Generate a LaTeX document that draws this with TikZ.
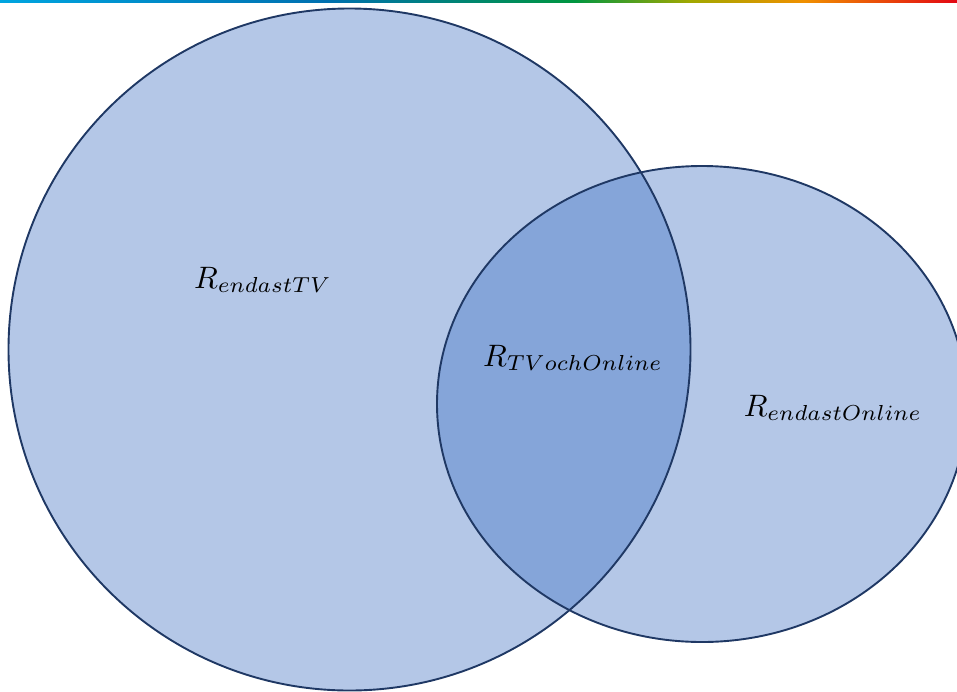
\documentclass[tikz,border=0pt]{standalone}
\usepackage{xcolor}
\usepackage{amsmath}
\usetikzlibrary{calc,positioning}
\definecolor{setfill}{HTML}{B4C7E7}
\definecolor{cutfill}{HTML}{85A5D9}
\definecolor{setline}{HTML}{1F3864}
\definecolor{barcyan}{HTML}{00A5E0}
\definecolor{barblue}{HTML}{0070B0}
\definecolor{bargreen}{HTML}{009640}
\definecolor{barolive}{HTML}{A0A800}
\definecolor{barorange}{HTML}{F09000}
\definecolor{barred}{HTML}{E30613}
\pgfdeclarehorizontalshading{topbar}{100bp}{
	color(0bp)=(barcyan);
	color(25bp)=(barcyan);
	color(42bp)=(barblue);
	color(55bp)=(bargreen);
	color(61bp)=(barolive);
	color(67bp)=(barorange);
	color(75bp)=(barred);
	color(100bp)=(barred)}
\tikzstyle{setarea}=[fill=setfill]
\tikzstyle{setedge}=[draw=setline, line width=1.9pt]
\tikzstyle{setlabel}=[inner sep=0, scale=3.1]

\begin{document}
\begin{tikzpicture}[x=1pt, y=-1pt]
	\useasboundingbox (0,0) rectangle (957,691);
	\begin{scope}
		\clip (0,0) rectangle (957,691);
		\shade[shading=topbar] (0,0) rectangle (957,2.2);
		% both sets
		\fill[setarea] (349.5,349.5) circle (341);
		\fill[setarea] (702,404) ellipse (265 and 238);
		% overlap
		\begin{scope}
			\clip (349.5,349.5) circle (341);
			\fill[cutfill] (702,404) ellipse (265 and 238);
		\end{scope}
		\draw[setedge] (349.5,349.5) circle (341);
		\draw[setedge] (702,404) ellipse (265 and 238);
	\end{scope}
	\node[setlabel] (onlytv) at (263,280) {$R_{endastTV}$};
	\node[setlabel] (both) at (573,358) {$R_{TVochOnline}$};
	\node[setlabel] (onlyweb) at (833,408) {$R_{endastOnline}$};
\end{tikzpicture}
\end{document}
